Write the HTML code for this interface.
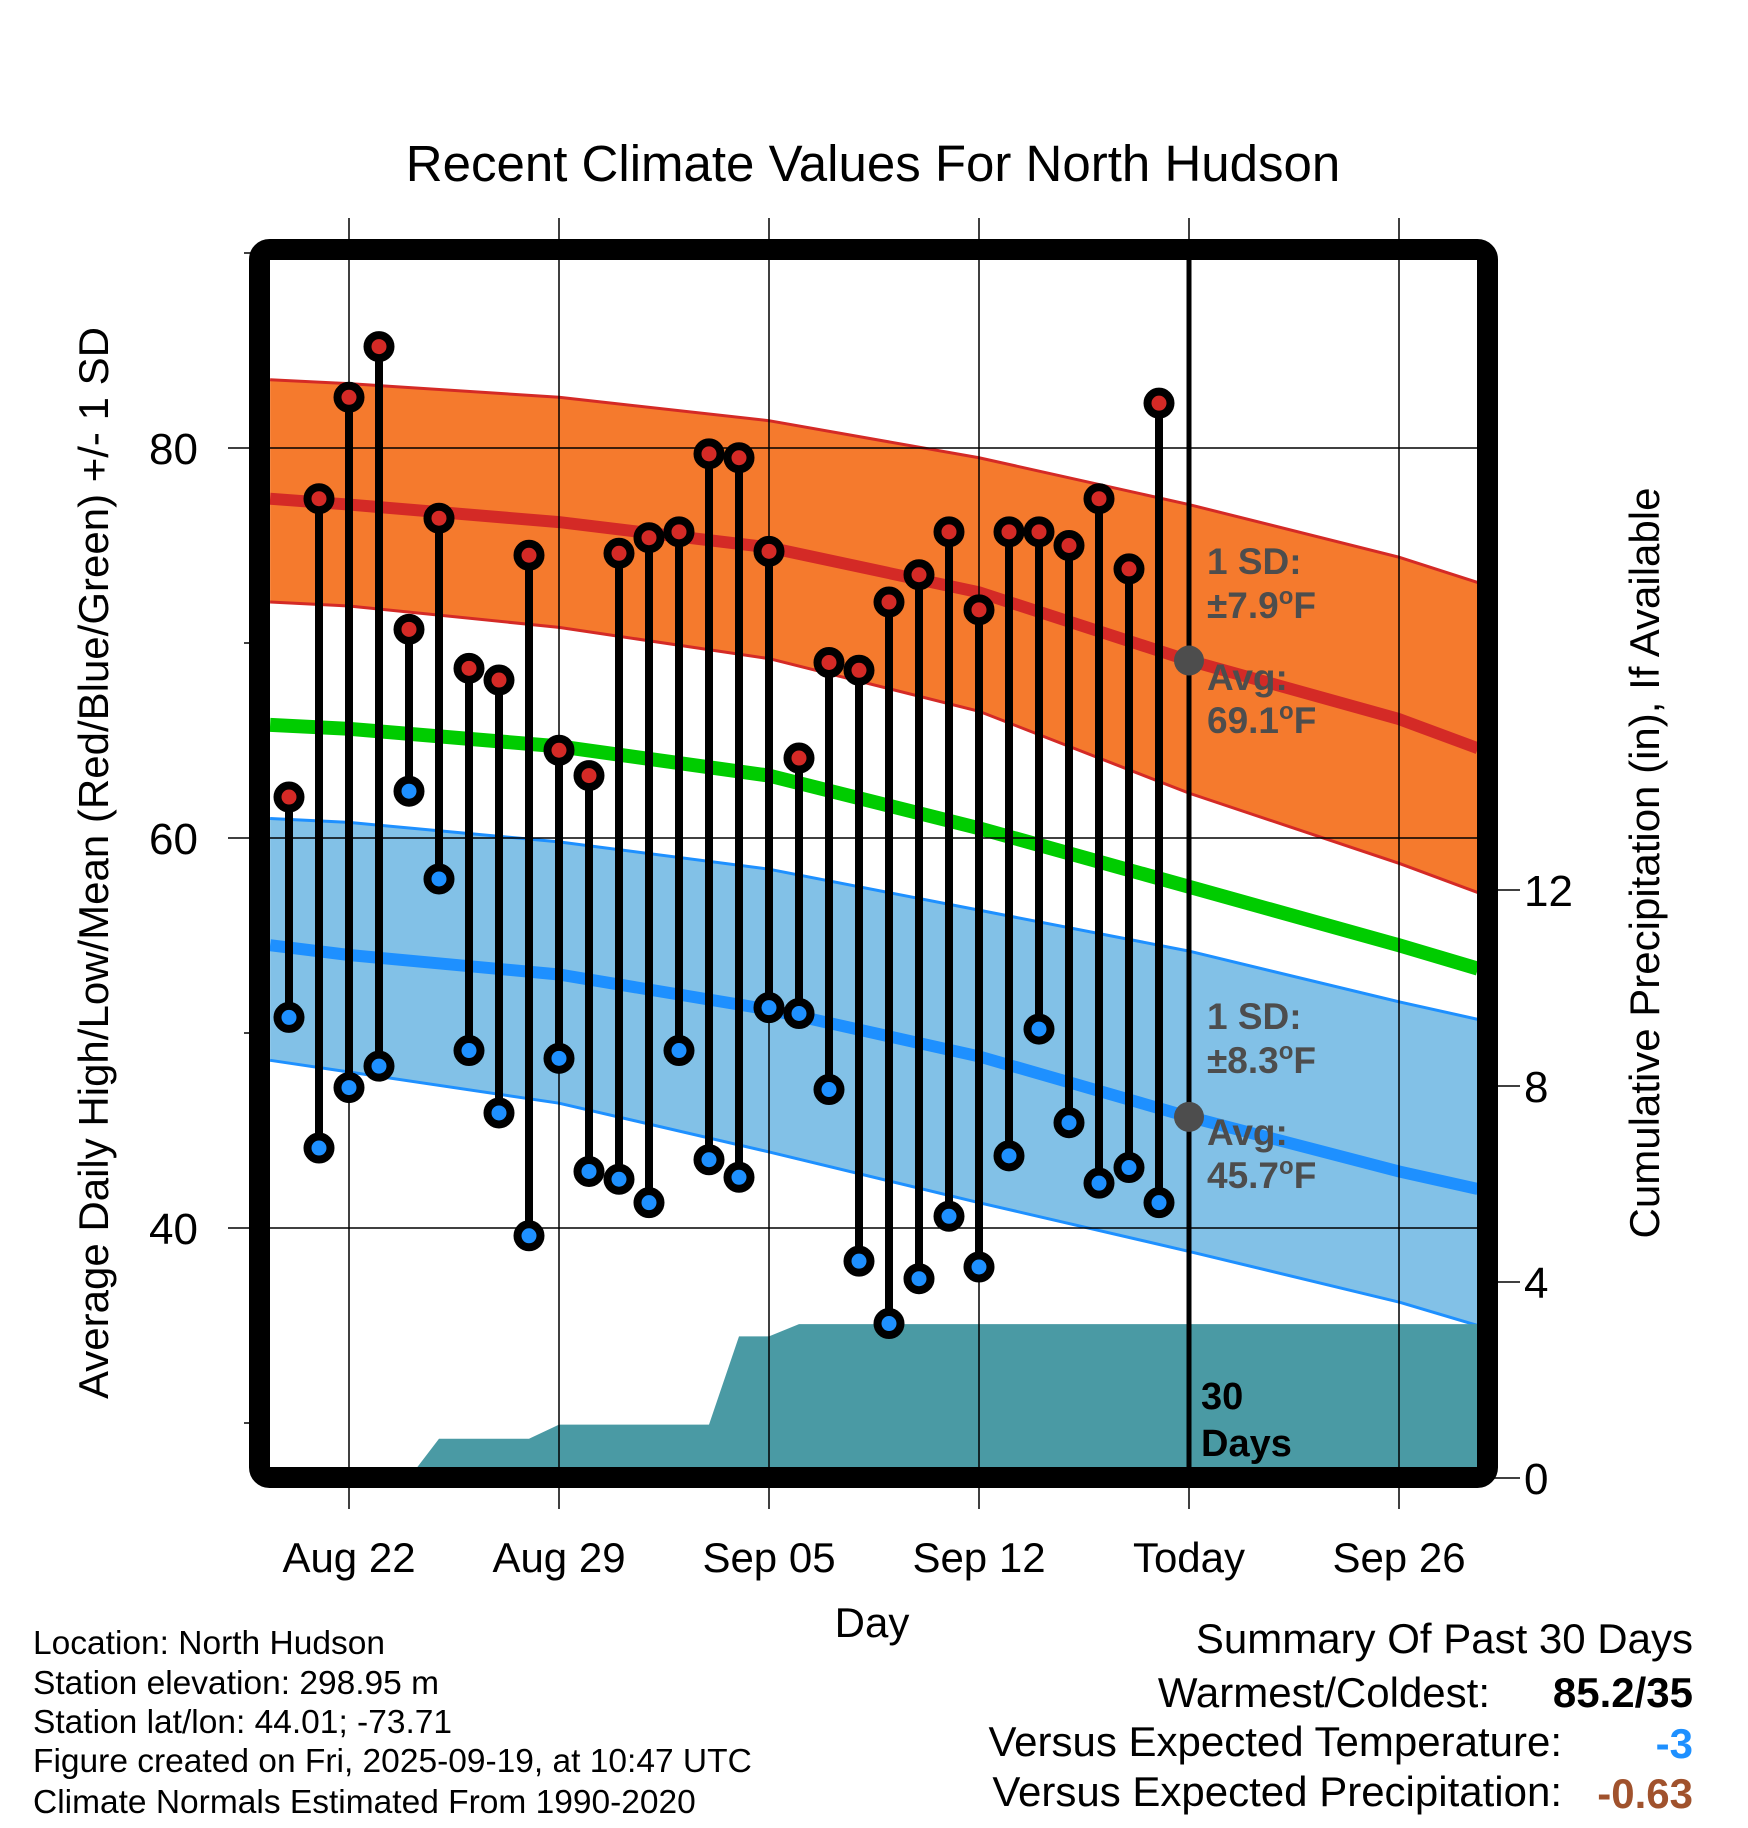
<!DOCTYPE html>
<html><head><meta charset="utf-8"><style>
html,body{margin:0;padding:0;background:#fff}
svg{display:block}
text{font-family:"Liberation Sans",Arial,sans-serif}
</style></head><body>
<svg id="chart" width="1748" height="1828" viewBox="0 0 1748 1828" xmlns="http://www.w3.org/2000/svg">
<text x="873" y="181" font-size="51" text-anchor="middle">Recent Climate Values For North Hudson</text>
<g id="plot"></g>
<text x="872" y="1637" font-size="42" text-anchor="middle">Day</text>
<text transform="translate(108,863) rotate(-90)" font-size="42" text-anchor="middle">Average Daily High/Low/Mean (Red/Blue/Green) +/- 1 SD</text>
<text transform="translate(1659,863) rotate(-90)" font-size="42" text-anchor="middle">Cumulative Precipitation (in), If Available</text>
<g font-size="33.5">
<text x="33" y="1654">Location: North Hudson</text>
<text x="33" y="1694">Station elevation: 298.95 m</text>
<text x="33" y="1733">Station lat/lon: 44.01; -73.71</text>
<text x="33" y="1772">Figure created on Fri, 2025-09-19, at 10:47 UTC</text>
<text x="33" y="1813">Climate Normals Estimated From 1990-2020</text>
</g>
<g font-size="42">
<text x="1693" y="1653" text-anchor="end">Summary Of Past 30 Days</text>
<text x="1490" y="1707" text-anchor="end">Warmest/Coldest:</text>
<text x="1693" y="1707" text-anchor="end" font-weight="bold">85.2/35</text>
<text x="1562" y="1756" text-anchor="end">Versus Expected Temperature:</text>
<text x="1693" y="1758" text-anchor="end" font-weight="bold" fill="#1e90ff">-3</text>
<text x="1562" y="1806" text-anchor="end">Versus Expected Precipitation:</text>
<text x="1693" y="1808" text-anchor="end" font-weight="bold" fill="#a0522d">-0.63</text>
</g>
</svg>
<script>
// day offsets relative to Aug 22
const highs=[62.1,77.4,82.6,85.2,70.7,76.4,68.7,68.1,74.5,64.5,63.2,74.6,75.4,75.7,79.7,79.5,74.7,64.1,69.0,68.6,72.1,73.5,75.7,71.7,75.7,75.7,75.0,77.4,73.8,82.3];
const lows=[50.8,44.1,47.2,48.3,62.4,57.9,49.1,45.9,39.6,48.7,42.9,42.5,41.3,49.1,43.5,42.6,51.3,51.0,47.1,38.3,35.1,37.4,40.6,38.0,43.7,50.2,45.4,42.3,43.1,41.3];
const precip=[0,0,0,0,0,0.8,0.8,0.8,0.8,1.09,1.09,1.09,1.09,1.09,1.09,2.89,2.89,3.14,3.14,3.14,3.14,3.14,3.14,3.14,3.14,3.14,3.14,3.14,3.14,3.14];
const normDays=[-2.63,0,7,14,21,28,35,37.63];
const hiUpper=[83.5,83.3,82.6,81.4,79.5,77.1,74.4,73.1];
const hiMean=[77.4,77.1,76.2,74.9,72.6,69.1,66.1,64.6];
const hiLower=[72.1,71.9,70.8,69.2,66.5,62.3,58.7,57.2];
const meanT=[65.8,65.6,64.7,63.2,60.5,57.5,54.5,53.3];
const loUpper=[61.0,60.8,59.8,58.4,56.3,54.2,51.6,50.7];
const loMean=[54.5,54.0,53.0,51.2,48.8,45.7,42.9,42.0];
const loLower=[48.6,48.0,46.4,43.9,41.3,38.8,36.2,35.0];
const xTickDays=[0,7,14,21,28,35];
const xTickLabels=["Aug 22","Aug 29","Sep 05","Sep 12","Today","Sep 26"];
const yTicks=[40,60,80];
const yMinor=[30,50,70,90];
const y2Ticks=[0,4,8,12];
const firstDay=-2, todayDay=28;

const NS="http://www.w3.org/2000/svg";
const L=270,R=1478,T=260,B=1468;
const X=d=>349+d*30;
const Y=v=>448-(v-80)*19.5;
const Y2=p=>1478-p*49;
const g=document.getElementById('plot');
function el(tag,attrs,parent){const e=document.createElementNS(NS,tag);for(const k in attrs)e.setAttribute(k,attrs[k]);(parent||g).appendChild(e);return e;}
function pts(days,vals){return days.map((d,i)=>X(d)+','+Y(vals[i])).join(' ');}

const defs=el('defs',{});
const cp=el('clipPath',{id:'clip'},defs);el('rect',{x:L,y:T,width:R-L,height:B-T},cp);
const inner=el('g',{'clip-path':'url(#clip)'});

let e=el('polygon',{points:pts(normDays,hiUpper)+' '+pts(normDays.slice().reverse(),hiLower.slice().reverse()),fill:'#f57a2d'},inner);

e=el('polyline',{points:pts(normDays,hiUpper),fill:'none',stroke:'#d42a26','stroke-width':3},inner);

e=el('polyline',{points:pts(normDays,hiLower),fill:'none',stroke:'#d42a26','stroke-width':3},inner);

e=el('polygon',{points:pts(normDays,loUpper)+' '+pts(normDays.slice().reverse(),loLower.slice().reverse()),fill:'#82c1e7'},inner);

e=el('polyline',{points:pts(normDays,loUpper),fill:'none',stroke:'#1e90ff','stroke-width':3},inner);

e=el('polyline',{points:pts(normDays,loLower),fill:'none',stroke:'#1e90ff','stroke-width':3},inner);

let pp=precip.map((p,i)=>X(firstDay+i)+','+Y2(p));
pp.push(X(40)+','+Y2(precip[precip.length-1]));
e=el('polygon',{points:X(firstDay)+','+Y2(0)+' '+pp.join(' ')+' '+X(40)+','+Y2(0),fill:'#4a9aa4'},inner);

xTickDays.forEach((d,i)=>{
  const l=el('line',{x1:X(d),x2:X(d),y1:218,y2:1509,stroke:'#000','stroke-width':1.5});
  
  const t=el('text',{x:X(d),y:1572,'font-size':42,'text-anchor':'middle'});t.textContent=xTickLabels[i];
  
});
yTicks.forEach(v=>{
  const l=el('line',{x1:228,x2:R,y1:Y(v),y2:Y(v),stroke:'#000','stroke-width':1.5});
  
  const t=el('text',{x:198,y:Y(v)+16,'font-size':44,'text-anchor':'end'});t.textContent=v;
  
});
yMinor.forEach(v=>{
  const l=el('line',{x1:244,x2:255,y1:Y(v),y2:Y(v),stroke:'#000','stroke-width':1.5});
  
});
y2Ticks.forEach(p=>{
  const l=el('line',{x1:1490,x2:1520,y1:Y2(p),y2:Y2(p),stroke:'#000','stroke-width':1.5});
  
  const t=el('text',{x:1524,y:Y2(p)+16,'font-size':44});t.textContent=p;
  
});
e=el('polyline',{points:pts(normDays,meanT),fill:'none',stroke:'#00cc00','stroke-width':14},inner);

e=el('polyline',{points:pts(normDays,hiMean),fill:'none',stroke:'#d42a26','stroke-width':12},inner);

e=el('polyline',{points:pts(normDays,loMean),fill:'none',stroke:'#1e90ff','stroke-width':12},inner);

e=el('line',{x1:X(todayDay),x2:X(todayDay),y1:T-5,y2:B,stroke:'#000','stroke-width':5});

[hiMean,loMean].forEach(arr=>{
  const v=arr[normDays.indexOf(todayDay)];
  const c=el('circle',{cx:X(todayDay),cy:Y(v),r:15,fill:'#4d4d4d'});
  
});
function lab(txt,x,y,name,fill,size){const t=el('text',{x:x,y:y,'font-size':size||37,'font-weight':'bold',fill:fill});t.innerHTML=txt;}
lab('1 SD:',1207,574,'high-sd-label','#4d4d4d');
lab('±7.9<tspan font-size="24" dy="-14">o</tspan><tspan dy="14">F</tspan>',1207,618,'high-sd-value','#4d4d4d');
lab('Avg:',1207,690,'high-avg-label','#4d4d4d');
lab('69.1<tspan font-size="24" dy="-14">o</tspan><tspan dy="14">F</tspan>',1207,733,'high-avg-value','#4d4d4d');
lab('1 SD:',1207,1029,'low-sd-label','#4d4d4d');
lab('±8.3<tspan font-size="24" dy="-14">o</tspan><tspan dy="14">F</tspan>',1207,1073,'low-sd-value','#4d4d4d');
lab('Avg:',1207,1145,'low-avg-label','#4d4d4d');
lab('45.7<tspan font-size="24" dy="-14">o</tspan><tspan dy="14">F</tspan>',1207,1188,'low-avg-value','#4d4d4d');
lab('30',1201,1409,'days-label','#000',38);
lab('Days',1201,1456,'days-label-2','#000',38);
highs.forEach((h,i)=>{
  const x=X(firstDay+i), lo=lows[i];
  const s=el('line',{x1:x,x2:x,y1:Y(h),y2:Y(lo),stroke:'#000','stroke-width':8});
  
  const ch=el('circle',{cx:x,cy:Y(h),r:11.5,fill:'#d42a26',stroke:'#000','stroke-width':8});
  
  const cl=el('circle',{cx:x,cy:Y(lo),r:11.5,fill:'#1e90ff',stroke:'#000','stroke-width':8});
  
});
e=el('rect',{x:259.5,y:249.5,width:1228,height:1228,rx:10,fill:'none',stroke:'#000','stroke-width':21});

</script>
</body></html>
